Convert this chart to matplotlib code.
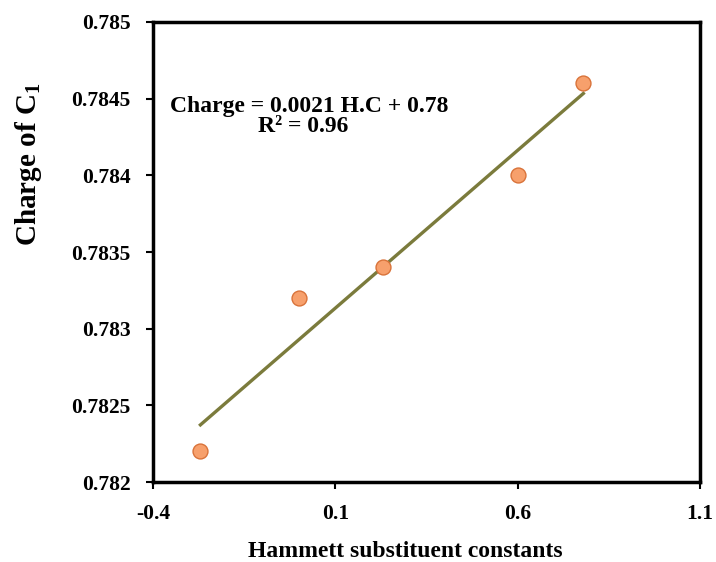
import matplotlib
matplotlib.use("Agg")
import matplotlib.pyplot as plt
import numpy as np

# Hammett constants vs. charge of C1
hammett = [-0.27, 0.0, 0.23, 0.60, 0.78]
charge = [0.7822, 0.7832, 0.7834, 0.7840, 0.7846]

x_ticks = [-0.4, 0.1, 0.6, 1.1]
y_ticks = [0.782, 0.7825, 0.783, 0.7835, 0.784, 0.7845, 0.785]

equation_text = "Charge = 0.0021 H.C + 0.78"
r2_text = "R\u00b2 = 0.96"

plt.rcParams["font.family"] = ["Liberation Serif", "DejaVu Serif"]
plt.rcParams["font.weight"] = "bold"
plt.rcParams["mathtext.fontset"] = "custom"
plt.rcParams["mathtext.rm"] = "Liberation Serif:bold"
plt.rcParams["mathtext.bf"] = "Liberation Serif:bold"

fig = plt.figure(figsize=(7.16, 5.62), dpi=100)
ax = fig.add_axes([0.2137, 0.1423, 0.764, 0.8186])

x = np.asarray(hammett)
y = np.asarray(charge)
slope, intercept = np.polyfit(x, y, 1)
xs = np.array([x.min(), x.max()])
ax.plot(xs, slope * xs + intercept, color="#7b7b3c", linewidth=2.4, zorder=2)

ax.scatter(x, y, s=115, color="#f7a06c", edgecolor="#d9733a",
           linewidth=1.0, zorder=3)

ax.set_xlim(x_ticks[0], x_ticks[-1])
ax.set_ylim(y_ticks[0], y_ticks[-1])
ax.set_xticks(x_ticks)
ax.set_xticklabels([f"{v:g}" for v in x_ticks])
ax.set_yticks(y_ticks)
ax.set_yticklabels([f"{v:g}" for v in y_ticks])

for s in ax.spines.values():
    s.set_linewidth(2.5)
    s.set_color("black")
ax.tick_params(axis="both", direction="out", length=5, width=1.5,
               labelsize=15.5)
ax.tick_params(axis="x", pad=11)
ax.tick_params(axis="y", pad=11)
for lbl in ax.get_xticklabels() + ax.get_yticklabels():
    lbl.set_fontweight("bold")

ax.set_xlabel("Hammett substituent constants", fontsize=17, fontweight="bold")
ax.xaxis.set_label_coords(0.461, -0.128)
ax.set_ylabel("Charge of C$_\\mathbf{1}$", fontsize=21, fontweight="bold")
ax.yaxis.set_label_coords(-0.199, 0.69)

ax.text(0.285, 0.817, equation_text, transform=ax.transAxes,
        fontsize=17, fontweight="bold", ha="center", va="center")
ax.text(0.274, 0.772, r2_text, transform=ax.transAxes,
        fontsize=17, fontweight="bold", ha="center", va="center")

fig.savefig("out.png", dpi=100)
